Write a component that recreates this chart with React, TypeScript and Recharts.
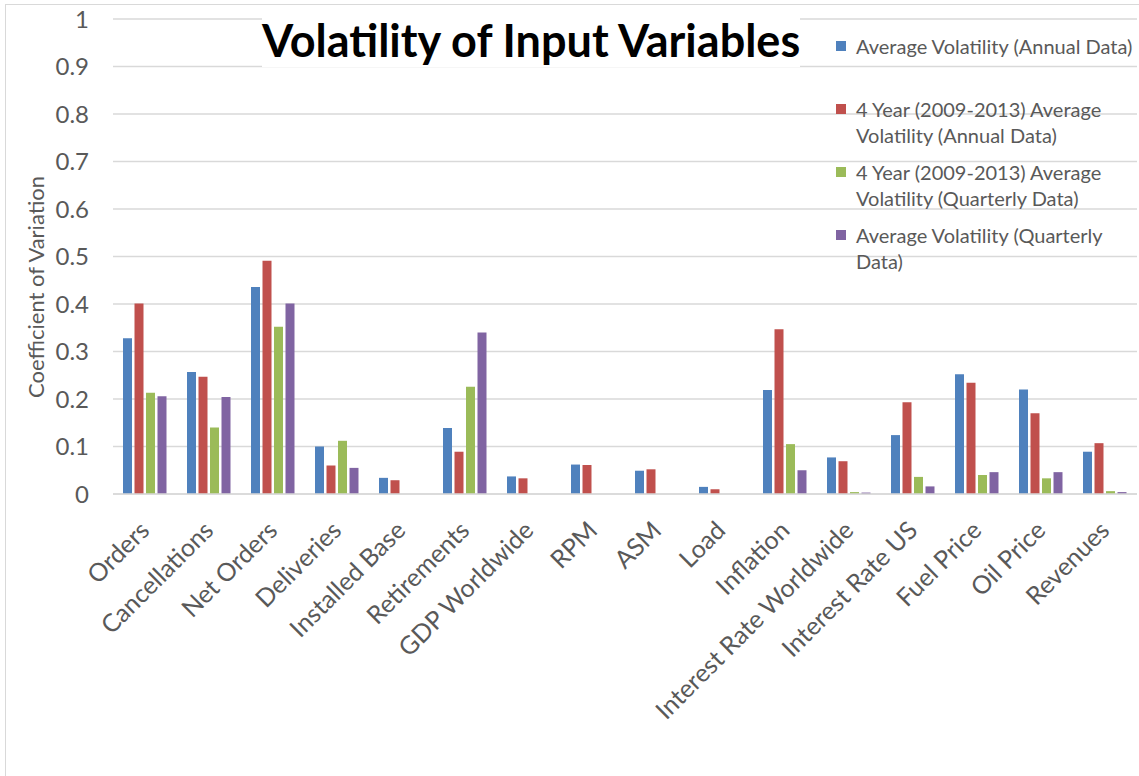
import React from "react";
import {
  BarChart,
  Bar,
  XAxis,
  YAxis,
  CartesianGrid,
  Legend,
} from "recharts";

const categories = [
  "Orders",
  "Cancellations",
  "Net Orders",
  "Deliveries",
  "Installed Base",
  "Retirements",
  "GDP Worldwide",
  "RPM",
  "ASM",
  "Load",
  "Inflation",
  "Interest Rate Worldwide",
  "Interest Rate US",
  "Fuel Price",
  "Oil Price",
  "Revenues",
];

const avgAnnual = [0.328, 0.257, 0.436, 0.1, 0.034, 0.139, 0.037, 0.062, 0.049, 0.015, 0.219, 0.077, 0.124, 0.252, 0.22, 0.089];
const fourYearAnnual = [0.401, 0.247, 0.491, 0.06, 0.029, 0.089, 0.033, 0.061, 0.052, 0.01, 0.347, 0.069, 0.193, 0.234, 0.17, 0.107];
const fourYearQuarterly = [0.213, 0.14, 0.352, 0.112, null, 0.226, null, null, null, null, 0.105, 0.004, 0.036, 0.04, 0.033, 0.006];
const avgQuarterly = [0.206, 0.204, 0.401, 0.055, null, 0.34, null, null, null, null, 0.05, 0.003, 0.016, 0.046, 0.046, 0.004];

const yTicks = [0, 0.1, 0.2, 0.3, 0.4, 0.5, 0.6, 0.7, 0.8, 0.9, 1];

const series = [
  { key: "avgAnnual", name: "Average Volatility (Annual Data)", lines: ["Average Volatility (Annual Data)"], color: "#4F81BD" },
  { key: "fourYearAnnual", name: "4 Year (2009-2013) Average Volatility (Annual Data)", lines: ["4 Year (2009-2013) Average", "Volatility (Annual Data)"], color: "#C0504D" },
  { key: "fourYearQuarterly", name: "4 Year (2009-2013) Average Volatility (Quarterly Data)", lines: ["4 Year (2009-2013) Average", "Volatility (Quarterly Data)"], color: "#9BBB59" },
  { key: "avgQuarterly", name: "Average Volatility (Quarterly Data)", lines: ["Average Volatility (Quarterly", "Data)"], color: "#8064A2" },
];

const data = categories.map((c, i) => ({
  name: c,
  avgAnnual: avgAnnual[i],
  fourYearAnnual: fourYearAnnual[i],
  fourYearQuarterly: fourYearQuarterly[i],
  avgQuarterly: avgQuarterly[i],
}));

const FONT = "Lato, 'Open Sans', sans-serif";
const TEXT = "#595959";

function XTick(props: any) {
  const { x, y, payload } = props;
  const tx = x + 6;
  const ty = y + 30;
  return (
    <text
      x={tx}
      y={ty}
      textAnchor="end"
      fill={TEXT}
      fontSize={25}
      fontFamily={FONT}
      transform={`rotate(-45 ${tx} ${ty})`}
    >
      {payload.value}
    </text>
  );
}

function LegendBox() {
  return (
    <div style={{ fontFamily: FONT, fontSize: 20, color: TEXT, lineHeight: "26px" }}>
      {series.map((s) => (
        <div key={s.key} style={{ position: "relative", height: 63, paddingLeft: 20 }}>
          <span
            style={{
              position: "absolute",
              left: 0,
              top: 8,
              width: 10,
              height: 10,
              background: s.color,
            }}
          />
          {s.lines.map((l) => (
            <div key={l} style={{ whiteSpace: "nowrap" }}>{l}</div>
          ))}
        </div>
      ))}
    </div>
  );
}

export default function App() {
  return (
    <div
      style={{
        position: "absolute",
        left: 0,
        top: 0,
        width: 1139,
        height: 776,
        background: "#fff",
        overflow: "hidden",
      }}
    >
      <div
        style={{
          position: "absolute",
          left: 5,
          top: 4,
          width: 1200,
          height: 900,
          borderLeft: "1.5px solid #d9d9d9",
          borderTop: "1.5px solid #d9d9d9",
        }}
      />
      <BarChart
        width={1139}
        height={776}
        data={data}
        margin={{ top: 19, right: 2, left: 0, bottom: 0 }}
        barCategoryGap={10}
        barGap={2.5}
      >
        <CartesianGrid vertical={false} stroke="#d9d9d9" strokeWidth={1.5} />
        <XAxis
          dataKey="name"
          interval={0}
          height={282}
          tickLine={false}
          axisLine={{ stroke: "#d9d9d9", strokeWidth: 1.5 }}
          tick={<XTick />}
        />
        <YAxis
          width={113}
          domain={[0, 1]}
          ticks={yTicks}
          axisLine={false}
          tickLine={false}
          tickSize={6}
          tickMargin={18}
          tick={{ fill: TEXT, fontSize: 24, fontFamily: FONT }}
          label={{
            value: "Coefficient of Variation",
            content: () => (
              <text
                x={35}
                y={287}
                transform="rotate(-90 35 287)"
                textAnchor="middle"
                dominantBaseline="central"
                fill={TEXT}
                fontSize={22}
                fontFamily={FONT}
              >
                Coefficient of Variation
              </text>
            ),
          }}
        />
        <Legend
          layout="vertical"
          align="center"
          verticalAlign="middle"
          content={() => <LegendBox />}
          wrapperStyle={{ position: "absolute", left: 836, top: 33, width: 300 }}
        />
        {series.map((s) => (
          <Bar
            key={s.key}
            dataKey={s.key}
            name={s.name}
            fill={s.color}
            isAnimationActive={false}
          />
        ))}
      </BarChart>
      <div
        style={{
          position: "absolute",
          left: 262,
          top: 13,
          fontFamily: FONT,
          fontWeight: 700,
          fontSize: 45,
          color: "#000",
          whiteSpace: "nowrap",
          background: "#fff",
        }}
      >
        Volatility of Input Variables
      </div>
    </div>
  );
}
